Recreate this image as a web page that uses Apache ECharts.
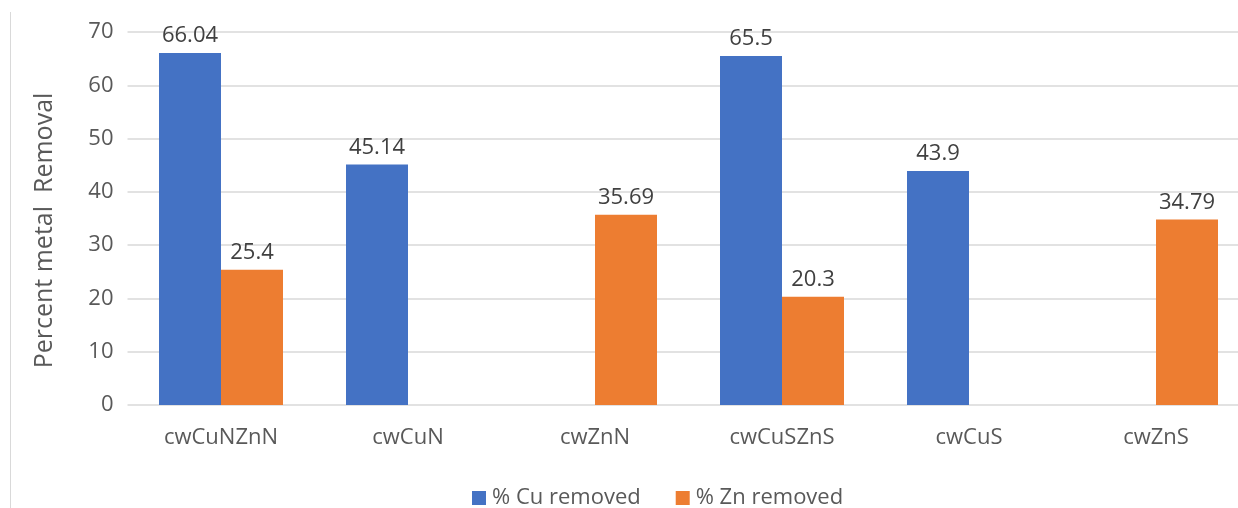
<!DOCTYPE html>
<html>
<head>
<meta charset="utf-8">
<script src="https://cdn.jsdelivr.net/npm/echarts@6/dist/echarts.min.js"></script>
<style>html,body{margin:0;padding:0;background:#fff}#c{width:1238px;height:508px}</style>
</head>
<body>
<div id="c"></div>
<script>
const categories = ['cwCuNZnN', 'cwCuN', 'cwZnN', 'cwCuSZnS', 'cwCuS', 'cwZnS'];
const cuRemoved = [66.04, 45.14, null, 65.5, 43.9, null];
const znRemoved = [25.4, null, 35.69, 20.3, null, 34.79];
const yTicks = [0, 10, 20, 30, 40, 50, 60, 70];
const seriesNames = ['% Cu removed', '% Zn removed'];

const font = '"Open Sans", "DejaVu Sans", sans-serif';
const chart = echarts.init(document.getElementById('c'), null, {renderer: 'canvas'});
const labelStyle = {show: true, position: 'top', distance: 6, color: '#404040', fontSize: 22, fontFamily: font,
  formatter: p => String(p.value)};
chart.setOption({
  animation: false,
  backgroundColor: '#fff',
  grid: {left: 127.5, width: 1122, top: 32, bottom: 103, containLabel: false, outerBoundsMode: 'none'},
  legend: {
    left: 467, top: 482, itemWidth: 14, itemHeight: 14, itemGap: 35, icon: 'rect',
    textStyle: {color: '#595959', fontSize: 22, fontFamily: font, padding: [0, 0, 0, 1]},
    data: seriesNames
  },
  xAxis: {
    type: 'category', data: categories,
    axisLine: {show: false}, axisTick: {show: false},
    axisLabel: {color: '#595959', fontSize: 22, fontFamily: font, margin: 22}
  },
  yAxis: {
    type: 'value', min: yTicks[0], max: yTicks[yTicks.length - 1], interval: 10,
    name: 'Percent metal  Removal', nameLocation: 'middle', nameGap: 70,
    nameTextStyle: {color: '#595959', fontSize: 25, fontFamily: font, padding: [0, 24, 0, 0]},
    axisLine: {show: false}, axisTick: {show: false},
    axisLabel: {color: '#595959', fontSize: 22, fontFamily: font, margin: 14},
    splitLine: {lineStyle: {color: '#d9d9d9', width: 1.5}}
  },
  series: [
    {name: seriesNames[0], type: 'bar', data: cuRemoved, barWidth: 62, barGap: '0%',
     itemStyle: {color: '#4472C4'}, label: labelStyle},
    {name: seriesNames[1], type: 'bar', data: znRemoved, barWidth: 62, barGap: '0%',
     itemStyle: {color: '#ED7D31'}, label: labelStyle}
  ],
  graphic: [{type: 'line', shape: {x1: 10.5, y1: 12, x2: 10.5, y2: 508}, style: {stroke: '#d9d9d9', lineWidth: 1}}]
});
</script>
</body>
</html>
